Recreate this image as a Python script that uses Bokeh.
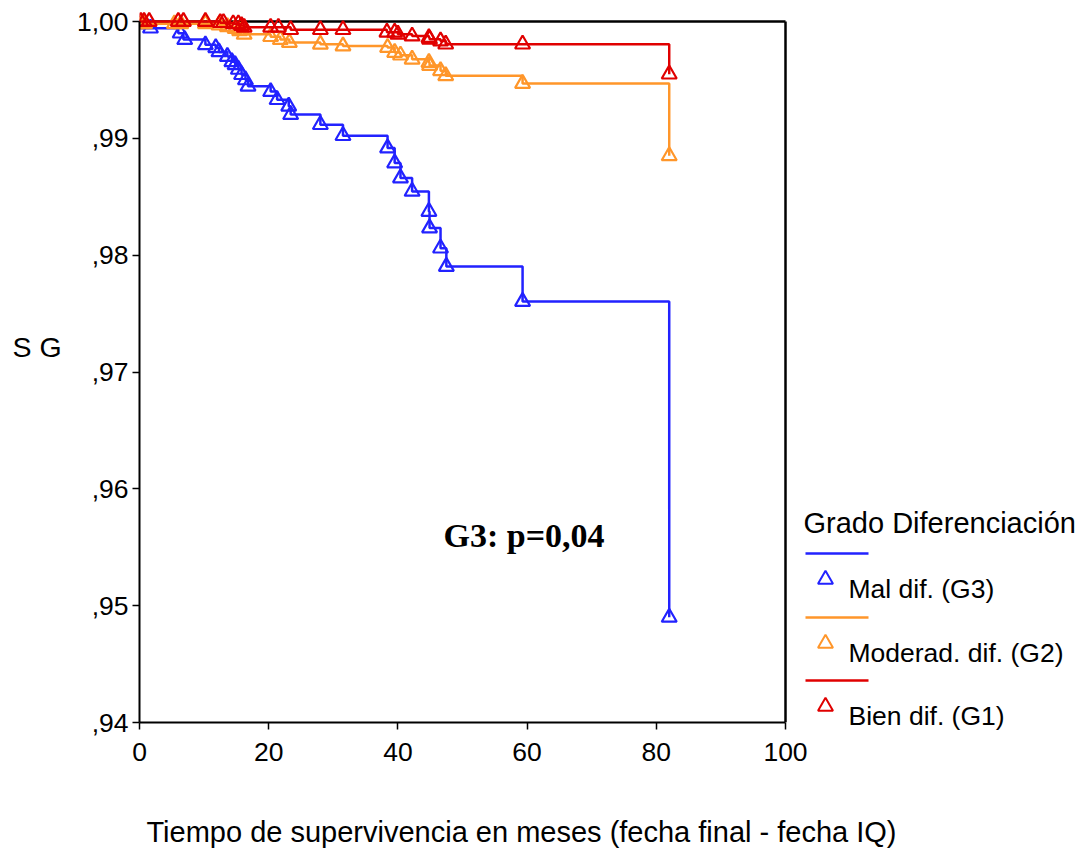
import numpy as np
from bokeh.plotting import figure
from bokeh.models import Range1d, FixedTicker, CustomJSTickFormatter, Label
from bokeh.embed import file_html
from bokeh.resources import INLINE

# ---------------- data ----------------
g3_t = [0, 0.2, 6.0, 6.8, 10.2, 11.8, 12.3, 13.6, 14.3, 14.8, 15.3, 15.8, 16.4, 16.8,
        20.3, 21.3, 23.1, 23.4, 28.0, 31.5, 38.4, 39.5, 40.4, 42.2, 44.8, 44.9, 46.6,
        47.5, 59.3, 82.0]
g3_s = [1.0, 0.99943, 0.9990, 0.99845, 0.9980, 0.99775, 0.9974, 0.9970, 0.99655, 0.9963,
        0.9959, 0.99545, 0.9950, 0.99445, 0.9940, 0.99331, 0.99274, 0.99203, 0.99117,
        0.99023, 0.98917, 0.98789, 0.98660, 0.98546, 0.98374, 0.98232, 0.98060, 0.97903,
        0.97603, 0.9490]
g3_cens = [1.7, 6.3, 7.0, 10.2, 11.8, 12.3, 13.6, 14.3, 14.8, 15.3, 15.8, 16.4, 16.8, 20.3,
           21.3, 23.1, 23.4, 28.0, 31.5, 38.4, 39.5, 40.4, 42.2, 44.8, 44.9, 46.6, 47.5,
           59.3, 82.0]

g2_t = [0, 0.3, 12.3, 13.6, 14.8, 15.5, 16.2, 20.3, 21.8, 23.2, 28.0, 31.5, 38.4, 39.5,
        40.4, 42.2, 44.8, 44.9, 46.6, 47.4, 59.3, 82.0]
g2_s = [1.0, 0.9998, 0.9997, 0.99955, 0.9994, 0.9992, 0.9989, 0.9987, 0.99845, 0.9982,
        0.99805, 0.9979, 0.99777, 0.99735, 0.99712, 0.99677, 0.99649, 0.99623, 0.99578,
        0.99535, 0.99469, 0.98850]
g2_cens = [0.3, 0.8, 5.4, 6.4, 10.2, 12.3, 13.6, 14.8, 15.5, 16.2, 20.3, 21.8, 23.2, 28.0,
           31.5, 38.4, 39.5, 40.4, 42.2, 44.8, 44.9, 46.6, 47.4, 59.3, 82.0]

g1_t = [0, 12.5, 14.5, 15.5, 16.2, 23.4, 38.3, 40.0, 42.2, 44.8, 44.9, 46.6, 47.4, 82.0]
g1_s = [1.0, 0.9999, 0.9998, 0.99965, 0.9995, 0.9993, 0.99908, 0.99891, 0.99875,
        0.99862, 0.99848, 0.99833, 0.99806, 0.99549]
g1_cens = [0.2, 0.7, 1.5, 6.0, 6.8, 10.2, 12.5, 13.0, 14.5, 15.3, 15.8, 16.2, 20.3, 21.5,
           23.4, 28.0, 31.5, 38.3, 39.5, 40.0, 42.2, 44.8, 44.9, 46.6, 47.4, 59.3, 82.0]

series_names = ["Mal dif. (G3)", "Moderad. dif. (G2)", "Bien dif. (G1)"]
series_colors = ["#2222FF", "#FF962A", "#E00000"]
legend_title = "Grado Diferenciación"
x_title = "Tiempo de supervivencia en meses (fecha final - fecha IQ)"
y_title = "S G"
note_text = "G3: p=0,04"
y_ticks = [0.94, 0.95, 0.96, 0.97, 0.98, 0.99, 1.00]
x_ticks = [0, 20, 40, 60, 80, 100]

# ---------------- layout constants ----------------
PX_X = 6.46          # pixels per month
PX_Y = 11683.0       # pixels per unit survival
X_MAX = 100
Y_MIN, Y_MAX = 0.94, 1.0
FONT = "Liberation Sans"
W, H = 1076, 848

def px_x(px):   # page pixel -> data x
    return (px - 139) / PX_X

def px_y(py):   # page pixel -> data y
    return 1.0 - (py - 21) / PX_Y

p = figure(width=W, height=H, output_backend="svg", toolbar_location=None,
           x_range=Range1d(0, px_x(W)), y_range=Range1d(Y_MIN, px_y(10)),
           min_border_left=139, min_border_right=0, min_border_top=10,
           min_border_bottom=H - 722)
p.outline_line_color = None
p.xgrid.visible = False
p.ygrid.visible = False

for ax in (p.xaxis[0], p.yaxis[0]):
    ax.axis_line_color = "black"
    ax.axis_line_width = 2
    ax.major_tick_line_color = "black"
    ax.major_tick_line_width = 1.5
    ax.major_tick_out = 7
    ax.major_tick_in = 0
    ax.minor_tick_line_color = None
    ax.major_label_text_font = FONT
    ax.major_label_text_font_size = "26.5px"
    ax.major_label_text_color = "black"

p.xaxis.bounds = (0, X_MAX)
p.yaxis.bounds = (Y_MIN, Y_MAX)
p.xaxis.ticker = FixedTicker(ticks=x_ticks)
p.yaxis.ticker = FixedTicker(ticks=y_ticks)
p.xaxis.major_label_standoff = 13
p.yaxis.major_label_standoff = 4
p.yaxis.formatter = CustomJSTickFormatter(code="""
    const v = Math.round(tick * 100);
    if (v >= 100) { return "1,00"; }
    return "," + v;
""")

# frame borders (top and right)
p.segment(x0=[0, X_MAX], y0=[Y_MAX, Y_MIN], x1=[X_MAX, X_MAX], y1=[Y_MAX, Y_MAX],
          line_color="black", line_width=2.5)

def surv_at(ts, ss, times):
    idx = np.searchsorted(np.array(ts), np.array(times), side="right") - 1
    return list(np.array(ss)[idx])

curves = [(g3_t, g3_s, g3_cens), (g2_t, g2_s, g2_cens), (g1_t, g1_s, g1_cens)]
for (ts, ss, cens), col in zip(curves, series_colors):
    p.step(ts, ss, mode="after", line_color=col, line_width=2.5)
    p.scatter(cens, surv_at(ts, ss, cens), marker="triangle", size=15,
              fill_color=None, line_color=col, line_width=2.2)

def lab(x, y, text, size, font=FONT, style="normal", align="left"):
    return Label(x=x, y=y, text=text, text_font=font, text_font_style=style,
                 text_font_size=size, text_baseline="alphabetic", text_align=align,
                 text_color="black")

p.add_layout(lab(px_x(443), px_y(535), note_text, "34px", font="Liberation Serif",
                 style="bold"))

# axis titles (side panels, so they are not clipped to the frame)
p.add_layout(lab(px_x(12), px_y(346), y_title, "28.5px"), "left")
p.add_layout(lab(px_x(521), px_y(831), x_title, "29px", align="center"), "below")

# legend (drawn manually)
p.add_layout(lab(px_x(803), px_y(522), legend_title, "29px"))
line_rows = [553, 617, 680]
for i, (name, col) in enumerate(zip(series_names, series_colors)):
    ly = line_rows[i]
    p.line([px_x(805), px_x(868)], [px_y(ly), px_y(ly)], line_color=col, line_width=2.5)
    p.scatter([px_x(825)], [px_y(ly + 26)], marker="triangle", size=15,
              fill_color=None, line_color=col, line_width=2)
    if i < 2:
        p.add_layout(lab(px_x(848), px_y(ly + 35), name, "26.5px"))
    else:
        # the last entry crosses the frame's bottom edge: keep it in the side panel
        p.add_layout(lab(px_x(848), px_y(ly + 35), name, "26.5px"), "below")

open("out.html", "w").write(file_html(p, INLINE))
